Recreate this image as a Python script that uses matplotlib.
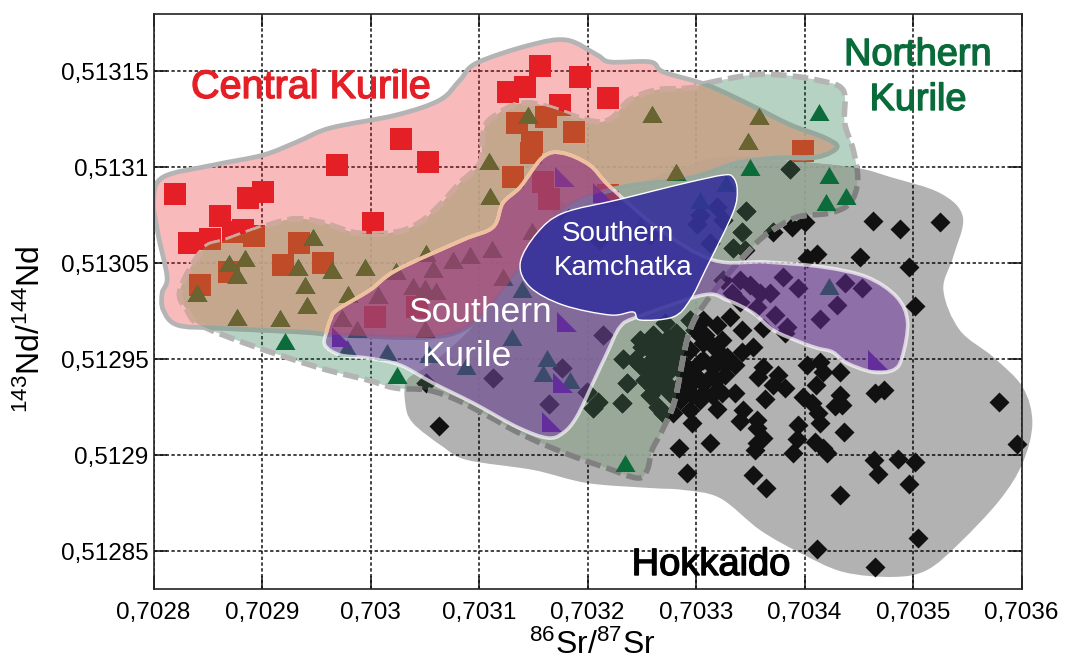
import numpy as np
import matplotlib
matplotlib.use("Agg")
import matplotlib.pyplot as plt
from matplotlib.path import Path
from matplotlib.patches import PathPatch
import matplotlib.patheffects as pe

plt.rcParams['font.family'] = ['Liberation Sans', 'DejaVu Sans']
plt.rcParams['mathtext.fontset'] = 'custom'
plt.rcParams['mathtext.rm'] = 'Liberation Sans'
plt.rcParams['mathtext.default'] = 'rm'

SR0 = 0.7028      # Sr values below are offsets in units of 1e-6
ND0 = 0.51285     # Nd values below are axis-position offsets in units of 1e-7

x_ticks = [0.7028, 0.7029, 0.7030, 0.7031, 0.7032, 0.7033, 0.7034, 0.7035, 0.7036]
x_labels = ['0,7028', '0,7029', '0,703', '0,7031', '0,7032', '0,7033', '0,7034', '0,7035', '0,7036']
# The source axis jumps from 0,51295 to 0,51305 with even spacing, so labels are kept as printed.
y_ticks = [0.51285, 0.5129, 0.51295, 0.5130, 0.51305, 0.5131]
y_labels = ['0,51285', '0,5129', '0,51295', '0,51305', '0,5131', '0,51315']

central_sr = [19.5, 61, 33, 52, 73, 82.5, 87, 101, 92.6, 169, 228, 253, 202, 134, 119, 156, 70, 43, 327, 342, 356, 393,
              375, 335, 362, 388, 349, 331, 348, 359, 364.5, 204, 243, 419, 599, 419]
central_nd = [1858, 1745, 1606, 1625, 1661, 1672, 1838, 1870, 1641, 2010, 2146, 2026, 1708, 1604, 1490, 1500, 1453, 1385,
              2390, 2417, 2526, 2469, 2323, 2229, 2260, 2182, 2130, 1948, 2073, 1922, 1833, 1219, 1271, 2359, 2083, 1854]

north_sr = [309, 310, 147, 84, 70, 77, 40, 77, 117, 141.5, 140, 133, 164.5, 195, 179, 251, 223.5, 258, 276, 292, 312, 349,
            322, 340, 239, 250, 260, 207, 345, 174, 188, 250, 178, 215, 254, 288, 330, 363, 359, 384, 224, 121, 435,
            459.5, 558, 613, 548, 550, 482, 623, 620, 638, 528, 623, 448, 504]
north_nd = [2031, 1849, 1635, 1526, 1500, 1437, 1344, 1219, 1213, 1281, 1385, 1479, 1463, 1479, 1338, 1552, 1458, 1469,
            1515, 1542, 1573, 1667, 1427, 1364, 1380, 1370, 1354, 1333, 2271, 1213, 1156, 1156, 1057, 1036, 1026, 963,
            1114, 1005, 927, 891, 917, 1094, 458, 2276, 2265, 2286, 2135, 2000, 1974, 1958, 1818, 1849, 1917, 1380, 1698, 1828]

south_sr = [381, 377, 367, 174, 668, 379, 414]
south_nd = [1193, 875, 672, 1114, 995, 1948, 1864]

hok_sr = [587, 546, 571, 588.5, 600.5, 663, 688, 725, 651, 696, 611.5, 602, 545, 542.5, 534, 525, 501, 519, 513, 702,
          653, 637, 630, 614, 594, 580, 568, 550, 540.5, 525, 559, 573, 533, 584, 556, 540.5,
          506, 531, 519, 542, 552.5, 542, 562, 582, 506, 519, 528.5, 506, 516, 501, 510, 494.5, 506, 524, 536, 519, 543,
          541, 556, 496, 484, 513, 492, 562, 557, 576, 571, 582, 564, 602, 614, 617, 633, 611, 599, 607, 633, 628, 634.5,
          612.5, 614, 594, 593, 636.5, 556, 562, 556, 554, 589.5, 610, 617, 621, 665, 673, 779, 796, 664, 686, 702, 668,
          696, 633, 552.5, 564.5, 705, 611.5, 665, 494.5, 499, 490, 485, 504, 518, 527, 508, 524, 536, 494.5,
          263, 251, 313, 376.5, 364.5, 414, 399.5, 410, 405, 432, 436, 433, 444, 450, 460, 471, 482, 465, 473, 464, 476,
          470, 479, 488, 455, 482, 492, 465, 473, 460, 458, 411, 375, 504,
          448, 458, 467, 474, 448, 458, 469, 478, 485, 494.5, 478, 467, 474, 485, 496, 504, 515, 494.5, 504, 515, 527,
          504, 518, 494.5, 485, 458, 453]
hok_nd = [1989, 1771, 1661, 1687, 1713, 1719, 1677, 1713, 1531, 1479, 1547, 1526, 1568, 1661, 1578, 1724, 1703, 1792, 1604, 1276,
          1370, 1396, 1281, 1208, 1370, 1427, 1344, 1385, 1411, 1411, 1344, 1229, 1344, 1167, 1271, 1297,
          1203, 1219, 1177, 1151, 1062, 1036, 1161, 1135, 1083, 1047, 1010, 995, 958, 906, 891, 823, 823, 823, 823, 740, 734,
          677, 682, 667, 536, 562, 406, 958, 906, 917, 865, 849, 792, 969, 984, 932, 932, 865, 802, 771, 812, 755, 760,
          719, 667, 656, 583, 620, 641, 589, 562, 526, 510, 568, 536, 510, 823, 838, 776, 557, 474, 479, 464, 401,
          349, 292, 396, 328, 68, 10, -83, 1047, 1151, 969, 865, 786, 891, 917, 1125, 1099, 969, 734,
          651, 875, 901, 953, 766, 1125, 828, 776, 745, 771, 875, 1000, 995, 1062, 1125, 1187, 1135, 995, 927, 854, 823,
          719, 719, 1062, 953, 1010, 891, 750, 1031, 906, 1646, 1620, 1776, 1750,
          1099, 1047, 1073, 1109, 969, 984, 943, 969, 1099, 1203, 1047, 875, 865, 786, 812, 891, 812, 943, 1125, 1073, 969,
          984, 995, 865, 943, 812, 891]

central_field_sr = [0, 9, 55, 101, 132, 163, 224, 264, 282.5, 298, 347, 381, 409, 421, 458, 470, 510, 550, 587, 617, 630,
                    611.5, 575, 538, 494.5, 433, 384, 356, 319, 292, 255, 172, 135, 58.5, 22, 9, 8, 12.5, 4]
central_field_nd = [1828, 1948, 2010, 2062, 2130, 2203, 2271, 2349, 2453, 2542, 2635, 2661, 2583, 2547, 2547, 2495, 2427,
                    2323, 2219, 2156, 2104, 2052, 2047, 2021, 1943, 1896, 1802, 1620, 1333, 1177, 1114, 1125, 1141, 1161,
                    1177, 1255, 1344, 1427, 1656]

north_field_sr = [510, 550, 579, 611.5, 635.5, 637, 645, 649, 642, 623, 593, 568, 552, 517.5, 494.5, 480.5, 469, 459.5, 455,
                  446, 418, 388.5, 361, 335, 310, 280, 253, 222.5, 197, 153.5, 89, 43, 31, 24.5, 45.5, 68, 123, 153.5,
                  187.5, 224, 246, 264, 282.5, 301, 304, 313, 347, 411.5, 439, 464, 494.5]
north_field_nd = [2437, 2479, 2479, 2453, 2401, 2229, 2088, 1932, 1812, 1760, 1739, 1661, 1583, 1359, 1151, 786, 630, 526,
                  422, 380, 432, 490, 552, 620, 698, 786, 838, 849, 891, 953, 1073, 1177, 1255, 1359, 1568, 1620, 1724,
                  1713, 1656, 1661, 1713, 1802, 1917, 2021, 2177, 2260, 2333, 2234, 2349, 2401, 2411]

hok_field_sr = [648, 679, 725, 746, 737, 728, 743, 774, 801, 810, 801, 780, 743, 713, 682, 635.5, 596, 559, 522, 488, 458,
                399.5, 350, 289, 267, 239, 232, 234, 255, 285, 319, 347, 384, 430, 476, 525, 587]
hok_field_nd = [1995, 1948, 1864, 1739, 1531, 1359, 1151, 1010, 854, 667, 458, 266, 42, -99, -135, -109, -10, 109, 276, 318,
                328, 354, 422, 474, 542, 667, 771, 891, 969, 1114, 1323, 1568, 1802, 1880, 1974, 2052, 2031]

south_field_sr = [163, 169, 199.5, 224, 285, 313, 322, 338, 359, 377, 402, 421, 467, 516, 565, 617, 657.5, 685, 695, 690,
                  682, 663, 639, 626, 611.5, 596, 571, 552.5, 528.5, 506.5, 446, 430, 418, 405, 390, 377.5, 363, 335,
                  294.5, 257.5, 227, 197, 172, 158, 160]
south_field_nd = [1203, 1255, 1359, 1463, 1620, 1687, 1812, 1896, 2052, 2073, 2010, 1896, 1672, 1515, 1505, 1479, 1427,
                  1323, 1193, 1010, 943, 932, 979, 1036, 1057, 1088, 1151, 1240, 1307, 1333, 1219, 1167, 1031, 875, 698,
                  615, 589, 646, 771, 875, 969, 1005, 1021, 1073, 1151]

kam_field_sr = [534, 525, 494.5, 464, 427, 377.5, 353.5, 338, 347, 377.5, 421, 442, 448.5, 479, 494.5, 510, 534, 538]
kam_field_nd = [1948, 1958, 1922, 1880, 1828, 1760, 1656, 1500, 1375, 1281, 1229, 1245, 1203, 1219, 1307, 1479, 1760, 1880]


def sr(v):
    return SR0 + np.asarray(v, float) * 1e-6


def nd(v):
    return ND0 + np.asarray(v, float) * 1e-7


def smooth_path(sx, sy):
    """Closed smooth outline through the field vertices (Catmull-Rom as Bezier segments)."""
    pts = np.column_stack([sr(sx), nd(sy)])
    n = len(pts)
    verts = [pts[0]]
    codes = [Path.MOVETO]
    for i in range(n):
        p0, p1, p2, p3 = pts[i - 1], pts[i], pts[(i + 1) % n], pts[(i + 2) % n]
        verts += [p1 + (p2 - p0) / 6, p2 - (p3 - p1) / 6, p2]
        codes += [Path.CURVE4] * 3
    return Path(verts, codes)


fig = plt.figure(figsize=(10.73, 6.64), dpi=100)
L, R, T, B = 153.5, 1022, 13.5, 589
ax = fig.add_axes([L / 1073, 1 - B / 664, (R - L) / 1073, (B - T) / 664])
ax.set_xlim(0.7028, 0.7028 + (R - L) / 108.5 * 1e-4)
ax.set_ylim(ND0 - (B - 551) / 96 * 5e-5, ND0 + (551 - T) / 96 * 5e-5)
ax.set_axisbelow(True)
ax.grid(True, color='#111111', lw=1.1, linestyle=(0, (2.2, 1.6)))
ax.set_xticks(x_ticks, x_labels)
ax.set_yticks(y_ticks, y_labels)
ax.tick_params(axis='both', which='major', direction='in', length=9.5, width=1.1, top=True, right=True,
               labelsize=17.5, color='#111111')
ax.tick_params(axis='x', pad=9)
ax.tick_params(axis='y', pad=3.5)
for s in ax.spines.values():
    s.set_linewidth(1.2)
    s.set_color('#222222')
    s.set_zorder(8)

central_path = smooth_path(central_field_sr, central_field_nd)
north_path = smooth_path(north_field_sr, north_field_nd)
hok_path = smooth_path(hok_field_sr, hok_field_nd)
south_path = smooth_path(south_field_sr, south_field_nd)
kam_path = smooth_path(kam_field_sr, kam_field_nd)

tri = [(-1, -0.85), (1, -0.85), (0, 0.85)]
rtri = [(-1, 1), (-1, -1), (1, -1)]
dia = [(0, 1), (1, 0), (0, -1), (-1, 0)]
LW = 4.0
DASH = (0, (2.8, 1.1))


def add(path, **kw):
    return ax.add_patch(PathPatch(path, **kw))


# clip shapes (invisible)
north_clip = add(north_path, fc='none', ec='none', zorder=0)
central_clip = add(central_path, fc='none', ec='none', zorder=0)
hok_clip = add(hok_path, fc='none', ec='none', zorder=0)

# Hokkaido
add(hok_path, fc=(0, 0, 0, 0.3), ec='none', zorder=1, clip_on=False)
add(hok_path, fc=(220 / 255, 197 / 255, 197 / 255, 0.9), ec='none', zorder=1.1).set_clip_path(north_clip)
ax.scatter(sr(hok_sr), nd(hok_nd), marker=dia, s=207, c='#111111', lw=0, zorder=1.2, clip_on=False)

# Central Kurile
add(central_path, fc=(237 / 255, 28 / 255, 36 / 255, 0.3), ec='none', zorder=2)
ax.scatter(sr(central_sr), nd(central_nd), marker='s', s=250, c='#e41f26', lw=0, zorder=2.1)

# Northern Kurile
add(north_path, fc=(10 / 255, 107 / 255, 58 / 255, 0.3), ec='none', zorder=3)
ax.scatter(sr(hok_sr), nd(hok_nd), marker=dia, s=207, c='#243428', lw=0, zorder=3.01).set_clip_path(north_clip)
add(north_path, fc='none', ec='#b4b4b4', lw=LW, linestyle=DASH, zorder=3.05)
add(north_path, fc='none', ec='#808080', lw=LW, linestyle=DASH, zorder=3.06).set_clip_path(hok_clip)
add(central_path, fc=(200 / 255, 168 / 255, 142 / 255, 0.88), ec='none', zorder=3.1).set_clip_path(north_clip)
add(north_path, fc='none', ec='#d0a89b', lw=LW, linestyle=DASH, zorder=3.15).set_clip_path(central_clip)
ax.scatter(sr(central_sr), nd(central_nd), marker='s', s=250, c='#bf4b28', lw=0, zorder=3.2).set_clip_path(north_clip)
add(central_path, fc='none', ec='#b4b4b4', lw=3.4, zorder=3.3)
add(central_path, fc='none', ec='#96a89c', lw=3.4, zorder=3.31).set_clip_path(north_clip)

ax.scatter(sr(north_sr), nd(north_nd), marker=tri, s=207, c='#0b6b3a', lw=0, zorder=3.4)
ax.scatter(sr(north_sr), nd(north_nd), marker=tri, s=207, c='#6b6430', lw=0, zorder=3.5).set_clip_path(central_clip)
ax.scatter(sr(south_sr), nd(south_nd), marker=rtri, s=207, c='#5b2d9e', lw=0, zorder=3.6)

# Southern Kurile
add(south_path, fc=(109 / 255, 45 / 255, 157 / 255, 0.5), ec='none', zorder=4)
add(south_path, fc=(190 / 255, 70 / 255, 100 / 255, 0.35), ec='none', zorder=4.05).set_clip_path(central_clip)
add(south_path, fc='none', ec=(1, 1, 1, 0.68), lw=2.6, zorder=4.1)
add(south_path, fc='none', ec='#f0c09c', lw=2.6, zorder=4.15).set_clip_path(central_clip)

# Southern Kamchatka
add(kam_path, fc=(53 / 255, 48 / 255, 156 / 255, 0.88), ec='white', lw=1.0, zorder=5)


def label(px, py, s, size, color, bold=0.0):
    t = ax.annotate(s, xy=(px / 1073, 1 - py / 664), xycoords='figure fraction', ha='center', va='center',
                    fontsize=size, color=color, zorder=6, linespacing=1.05)
    if bold:
        t.set_path_effects([pe.withStroke(linewidth=bold, foreground=color)])
    return t


label(311, 87, 'Central Kurile', 28.5, '#e41f26', 1.0)
label(918, 55, 'Northern', 27.3, '#0a6b3a', 1.0)
label(918, 100, 'Kurile', 27.3, '#0a6b3a', 1.0)
label(711, 565, 'Hokkaido', 27.4, '#000000', 1.0)
label(480, 313, 'Southern', 25.5, 'white')
label(466, 357, 'Kurile', 25.5, 'white')
label(618, 234, 'Southern', 20, 'white')
label(623, 268, 'Kamchatka', 20, 'white')

fig.text(592 / 1073, 1 - 645 / 664, r'$^{86}$Sr/$^{87}$Sr', ha='center', va='center', fontsize=23)
fig.text(31 / 1073, 1 - 329 / 664, r'$^{143}$Nd/$^{144}$Nd', ha='center', va='center', rotation=90, fontsize=23)

fig.savefig('out.png', dpi=100)
